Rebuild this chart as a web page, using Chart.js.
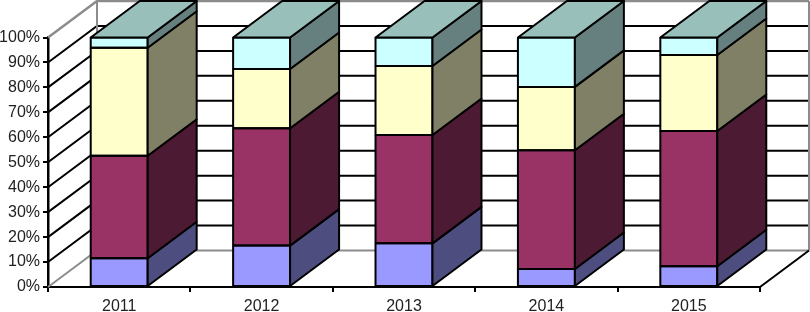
<!DOCTYPE html>
<html>
<head>
<meta charset="utf-8">
<script src="https://cdn.jsdelivr.net/npm/chart.js@4"></script>
<style>
    html, body { margin: 0; padding: 0; background: #fff; }
    #wrap { width: 810px; height: 312px; }
</style>
</head>
<body>
<div id="wrap"><canvas id="chart" width="810" height="312"></canvas></div>
<script>
const years = ['2011', '2012', '2013', '2014', '2015'];
const seriesA = [11.5, 16.6, 17.5, 7.2, 8.3];
const seriesB = [41.1, 47.0, 43.4, 47.6, 54.2];
const seriesC = [43.3, 23.8, 27.7, 25.4, 30.5];
const seriesD = [4.1, 12.6, 11.4, 19.8, 7.0];

const frontColors = ['#9999ff', '#993366', '#ffffcc', '#ccffff'];
const sideColors  = ['#4d4d80', '#4d1a33', '#808066', '#668080'];
const topColor    = '#99bfba';

// depth of the fake 3d box
const depthX = 49;
const depthY = 36.5;

function poly(ctx, pts, fill, stroke, lw) {
    ctx.beginPath();
    pts.forEach(function (p, i) {
        if (i === 0) ctx.moveTo(p[0], p[1]);
        else ctx.lineTo(p[0], p[1]);
    });
    if (fill) {
        ctx.closePath();
        ctx.fillStyle = fill;
        ctx.fill();
    }
    ctx.strokeStyle = stroke;
    ctx.lineWidth = lw;
    ctx.stroke();
}

const wallPlugin = {
    id: 'wall',
    beforeDatasetsDraw(chart) {
        const ctx = chart.ctx;
        const y = chart.scales.y;
        const left = chart.chartArea.left;
        const right = chart.chartArea.right;
        ctx.save();
        ctx.lineCap = 'butt';
        y.ticks.forEach(function (t) {
            const py = y.getPixelForValue(t.value);
            const edge = t.value === 0 || t.value === 100;
            const color = edge ? '#8c8c8c' : '#000';
            const lw = t.value === 100 ? 2.5 : 2;
            poly(ctx, [[left, py], [left + depthX, py - depthY], [right + depthX, py - depthY]], null, color, lw);
        });
        // back corner and right edge of the wall
        const top = y.getPixelForValue(100) - depthY;
        const bottom = y.getPixelForValue(0) - depthY;
        poly(ctx, [[left + depthX, bottom], [left + depthX, top]], null, '#8c8c8c', 2);
        poly(ctx, [[right + depthX, bottom], [right + depthX, top]], null, '#8c8c8c', 2);
        // floor edge on the right
        poly(ctx, [[right, y.getPixelForValue(0)], [right + depthX, bottom]], null, '#000', 2);
        ctx.restore();
    },
    afterDatasetsDraw(chart) {
        const ctx = chart.ctx;
        ctx.save();
        ctx.lineJoin = 'round';
        chart.data.datasets.forEach(function (ds, i) {
            chart.getDatasetMeta(i).data.forEach(function (bar) {
                const p = bar.getProps(['x', 'y', 'base', 'width'], true);
                const xr = p.x + p.width / 2;
                const xl = p.x - p.width / 2;
                // outline here, the library's inset border doubles up between stacked bars
                poly(ctx, [[xl, p.y], [xr, p.y], [xr, p.base], [xl, p.base], [xl, p.y]], null, '#000', 2);
                poly(ctx, [
                    [xr, p.y], [xr + depthX, p.y - depthY],
                    [xr + depthX, p.base - depthY], [xr, p.base]
                ], sideColors[i], '#000', 2);
                if (i === chart.data.datasets.length - 1) {
                    poly(ctx, [
                        [xl, p.y], [xl + depthX, p.y - depthY],
                        [xr + depthX, p.y - depthY], [xr, p.y]
                    ], topColor, '#000', 2);
                }
            });
        });
        ctx.restore();
    }
};

const allSeries = [seriesA, seriesB, seriesC, seriesD];

new Chart(document.getElementById('chart').getContext('2d'), {
    type: 'bar',
    data: {
        labels: years,
        datasets: allSeries.map(function (values, i) {
            return {
                data: values,
                backgroundColor: frontColors[i],
                borderWidth: 0,
                barPercentage: 0.8,
                categoryPercentage: 0.5
            };
        })
    },
    plugins: [wallPlugin],
    options: {
        responsive: false,
        animation: false,
        layout: { padding: { left: 0, right: 50, top: 37.5, bottom: 0 } },
        plugins: { legend: { display: false }, tooltip: { enabled: false } },
        scales: {
            x: {
                stacked: true,
                afterFit: function (scale) { scale.height = 25; },
                border: { color: '#000', width: 2 },
                grid: { offset: true, drawOnChartArea: false, color: '#000', tickLength: 5, lineWidth: 2 },
                ticks: { color: '#222', padding: 5, maxRotation: 0, font: { family: '"Liberation Sans"', size: 16 } }
            },
            y: {
                stacked: true,
                min: 0,
                max: 100,
                afterFit: function (scale) { scale.width = 48; },
                border: { color: '#000', width: 2.5 },
                grid: { drawOnChartArea: false, color: '#000', tickLength: 5, lineWidth: 2 },
                ticks: {
                    stepSize: 10,
                    color: '#222',
                    padding: 3,
                    font: { family: '"Liberation Sans"', size: 16 },
                    callback: function (v) { return v + '%'; }
                }
            }
        }
    }
});
</script>
</body>
</html>
